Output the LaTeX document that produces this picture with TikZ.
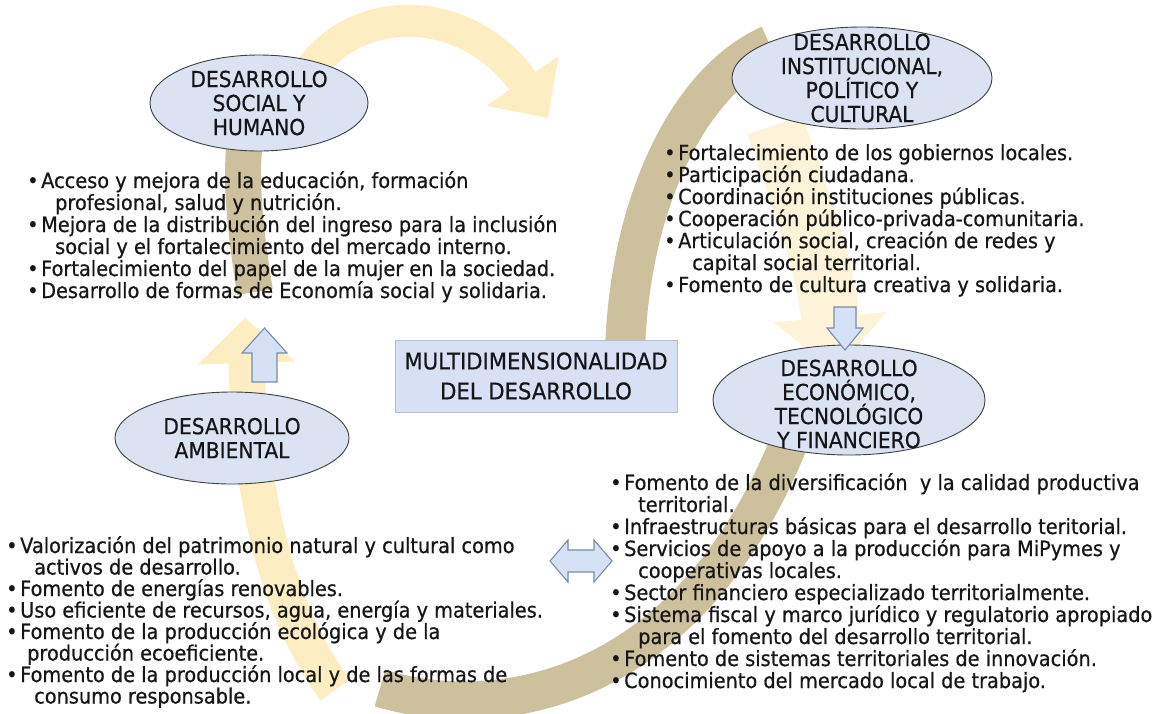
\documentclass[tikz,border=0pt]{standalone}
\usepackage{fontspec}
\setmainfont{DejaVu Sans}[FakeStretch=0.92,FakeBold=0.6]
\usetikzlibrary{shapes.geometric,arrows.meta}

\definecolor{ribbonyellow}{RGB}{252,237,195}
\definecolor{ribbonpale}{RGB}{253,243,216}
\definecolor{ribbontan}{RGB}{205,193,157}
\definecolor{ellfill}{RGB}{219,227,243}
\definecolor{boxfill}{RGB}{215,224,245}
\definecolor{arrfill}{RGB}{213,226,245}
\definecolor{arrline}{RGB}{120,140,170}
\definecolor{txt}{RGB}{22,22,22}

\tikzset{
  dimell/.style={ellipse, draw=black!75, line width=0.9pt, fill=ellfill, inner sep=0pt},
  dimlbl/.style={align=center, font=\fontsize{22}{24}\selectfont, text=txt, inner sep=0pt},
  bultxt/.style={align=left, anchor=north west, font=\fontsize{21}{22}\selectfont, text=txt, inner sep=0pt},
  cbox/.style={rectangle, fill=boxfill, draw=boxfill!85!black, line width=0.4pt, minimum width=282pt, minimum height=72pt,
    align=center, font=\fontsize{23}{30}\selectfont, text=txt},
  blockarr/.style={draw=arrline, line width=1.1pt, fill=arrfill, line join=miter},
  ribbonY/.style={draw=ribbonyellow, line cap=butt},
  ribbonP/.style={draw=ribbonpale, line cap=butt},
  ribbonT/.style={draw=ribbontan, line cap=butt},
}
\newcommand{\bl}{\makebox[14pt][l]{•}}
\newcommand{\ind}{\hspace*{28pt}}

\begin{document}
\begin{tikzpicture}[x=1pt,y=-1pt]
  \useasboundingbox (0,0) rectangle (1169,713);
  \fill[white] (0,0) rectangle (1169,713);

  % ribbon of the cycle, behind everything
  \draw[ribbonY, line width=32pt, -{Triangle[width=85pt,length=45pt]}] (310,70) .. controls (360,0) and (470,5) .. (548,118);
  \draw[ribbonT, line width=40pt] (770,45) .. controls (690,80) and (630,200) .. (625,350);
  \draw[ribbonP, line width=58pt, -{Triangle[width=110pt,length=55pt]}] (775,125) .. controls (800,200) and (825,260) .. (835,372);
  \draw[ribbonT, line width=38pt] (380,688) .. controls (500,725) and (690,690) .. (790,440);
  \draw[ribbonY, line width=36pt, -{Triangle[width=95pt,length=45pt]}] (335,690) .. controls (270,600) and (250,480) .. (245,318);
  \draw[ribbonT, line width=36pt] (255,292) .. controls (245,230) and (240,180) .. (245,140);

  % dimensions
  \node[dimell, minimum width=218pt, minimum height=96pt] (socEll) at (259,103) {};
  \node[dimlbl] (socLbl) at (socEll.center) {DESARROLLO\\SOCIAL Y\\HUMANO};
  \node[dimell, minimum width=260pt, minimum height=102pt] (instEll) at (862,78) {};
  \node[dimlbl] (instLbl) at (instEll.center) {DESARROLLO\\INSTITUCIONAL,\\POLÍTICO Y\\CULTURAL};
  \node[dimell, minimum width=272pt, minimum height=110pt] (ecoEll) at (849,400) {};
  \node[dimlbl] (ecoLbl) at ([yshift=-4pt]ecoEll.center) {DESARROLLO\\ECONÓMICO,\\TECNOLÓGICO\\Y FINANCIERO};
  \node[dimell, minimum width=234pt, minimum height=92pt] (ambEll) at (232,438) {};
  \node[dimlbl] (ambLbl) at (ambEll.center) {DESARROLLO\\AMBIENTAL};

  \node[cbox] (multi) at (536,376) {MULTIDIMENSIONALIDAD\\DEL DESARROLLO};

  % block arrows
  \coordinate (upTip) at (264.5,328);
  \draw[blockarr] (upTip) -- ++(22.5,25) -- ++(-10,0) -- ++(0,29) -- ++(-25,0) -- ++(0,-29) -- ++(-10,0) -- cycle;
  \coordinate (dnTip) at (845,350);
  \draw[blockarr] (dnTip) -- ++(18,-22) -- ++(-7,0) -- ++(0,-21) -- ++(-22,0) -- ++(0,21) -- ++(-7,0) -- cycle;
  \coordinate (dblL) at (550,561);
  \draw[blockarr] (dblL) -- ++(18,-21) -- ++(0,10) -- ++(26,0) -- ++(0,-10) -- ++(18,21) -- ++(-18,21) -- ++(0,-10) -- ++(-26,0) -- ++(0,10) -- cycle;

  % bullet lists
  \node[bultxt] (socTxt) at (27,171) {\bl Acceso y mejora de la educación, formación\\
    \ind profesional, salud y nutrición.\\
    \bl Mejora de la distribución del ingreso para la inclusión\\
    \ind social y el fortalecimiento del mercado interno.\\
    \bl Fortalecimiento del papel de la mujer en la sociedad.\\
    \bl Desarrollo de formas de Economía social y solidaria.};
  \node[bultxt] (instTxt) at (664,144) {\bl Fortalecimiento de los gobiernos locales.\\
    \bl Participación ciudadana.\\
    \bl Coordinación instituciones públicas.\\
    \bl Cooperación público-privada-comunitaria.\\
    \bl Articulación social, creación de redes y\\
    \ind capital social territorial.\\
    \bl Fomento de cultura creativa y solidaria.};
  \node[bultxt] (ecoTxt) at (610,473) {\bl Fomento de la diversificación \ y la calidad productiva\\
    \ind territorial.\\
    \bl Infraestructuras básicas para el desarrollo teritorial.\\
    \bl Servicios de apoyo a la producción para MiPymes y\\
    \ind cooperativas locales.\\
    \bl Sector financiero especializado territorialmente.\\
    \bl Sistema fiscal y marco jurídico y regulatorio apropiado\\
    \ind para el fomento del desarrollo territorial.\\
    \bl Fomento de sistemas territoriales de innovación.\\
    \bl Conocimiento del mercado local de trabajo.};
  \node[bultxt, font=\fontsize{21}{21.5}\selectfont] (ambTxt) at (6,536) {\bl Valorización del patrimonio natural y cultural como\\
    \ind activos de desarrollo.\\
    \bl Fomento de energías renovables.\\
    \bl Uso eficiente de recursos, agua, energía y materiales.\\
    \bl Fomento de la producción ecológica y de la\\
    \hspace*{21pt}producción ecoeficiente.\\
    \bl Fomento de la producción local y de las formas de\\
    \ind consumo responsable.};
\end{tikzpicture}
\end{document}
